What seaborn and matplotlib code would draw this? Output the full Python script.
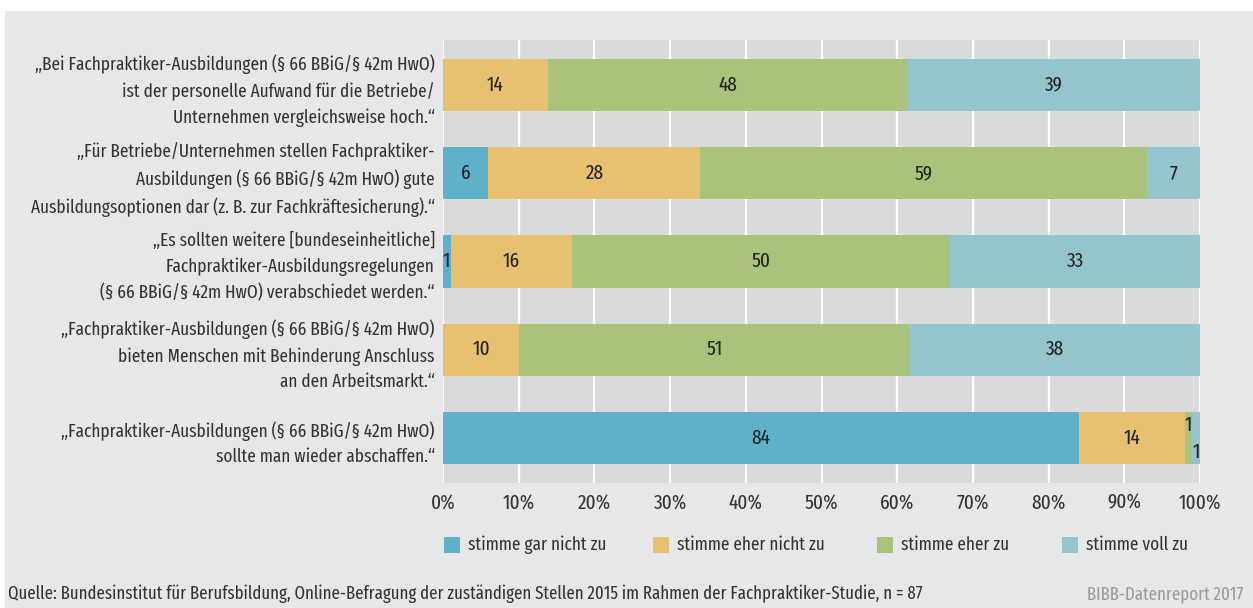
import numpy as np
import pandas as pd
import matplotlib
matplotlib.use("Agg")
import matplotlib.pyplot as plt
from matplotlib.patches import Rectangle
import seaborn as sns

statements = [
    "„Bei Fachpraktiker-Ausbildungen (§ 66 BBiG/§ 42m HwO)\nist der personelle Aufwand für die Betriebe/\nUnternehmen vergleichsweise hoch.“",
    "„Für Betriebe/Unternehmen stellen Fachpraktiker-\nAusbildungen (§ 66 BBiG/§ 42m HwO) gute\nAusbildungsoptionen dar (z. B. zur Fachkräftesicherung).“",
    "„Es sollten weitere [bundeseinheitliche]\nFachpraktiker-Ausbildungsregelungen\n(§ 66 BBiG/§ 42m HwO) verabschiedet werden.“",
    "„Fachpraktiker-Ausbildungen (§ 66 BBiG/§ 42m HwO)\nbieten Menschen mit Behinderung Anschluss\nan den Arbeitsmarkt.“",
    "„Fachpraktiker-Ausbildungen (§ 66 BBiG/§ 42m HwO)\nsollte man wieder abschaffen.“",
]
series_names = ["stimme gar nicht zu", "stimme eher nicht zu", "stimme eher zu", "stimme voll zu"]
gar_nicht = [0, 6, 1, 0, 84]
eher_nicht = [14, 28, 16, 10, 14]
eher_zu = [48, 59, 50, 51, 1]
voll_zu = [39, 7, 33, 38, 1]
xtick_labels = ["0%", "10%", "20%", "30%", "40%", "50%", "60%", "70%", "80%", "90%", "100%"]
source_text = "Quelle: Bundesinstitut für Berufsbildung, Online-Befragung der zuständigen Stellen 2015 im Rahmen der Fachpraktiker-Studie, n = 87"
brand_text = "BIBB-Datenreport 2017"

colors = ["#5fb0c9", "#e8c170", "#a9c47a", "#95c5cc"]
W, H = 1253, 608

sns.set_theme(style="white")
plt.rcParams["font.family"] = ["Fira Sans Extra Condensed", "Fira Sans Condensed", "IBM Plex Sans Condensed", "DejaVu Sans"]
FS = 13.5
FS_TICK = 15
FS_VAL = 15
FS_SRC = 13.1

vals = np.array([gar_nicht, eher_nicht, eher_zu, voll_zu], dtype=float)  # series x rows
pct = vals / vals.sum(axis=0) * 100
cum = np.cumsum(pct, axis=0)

fig = plt.figure(figsize=(W / 100, H / 100), dpi=100)
fig.patch.set_facecolor("white")
fig.patches.append(Rectangle((5 / W, 0), 1 - 5 / W, 1 - 11 / H, transform=fig.transFigure,
                             facecolor="#e6e7e9", edgecolor="none", zorder=-10))

ax = fig.add_axes([443 / W, (H - 483) / H, 757 / W, 443 / H])
ax.set_facecolor("#d9dadc")

ypos = list(range(len(statements)))
for i in reversed(range(4)):
    df = pd.DataFrame({"stmt": statements, "val": cum[i]})
    sns.barplot(data=df, x="val", y="stmt", orient="h", color=colors[i], saturation=1,
                width=0.59, ax=ax, zorder=3, edgecolor="none", linewidth=0)

# value labels
for r in range(len(statements)):
    left = 0.0
    small_idx = [i for i in range(4) if 0 < pct[i, r] < 3]
    consec = len(small_idx) >= 2
    k = 0
    for i in range(4):
        w = pct[i, r]
        if vals[i, r] > 0:
            dy = 0
            if consec and i in small_idx:
                dy = -0.14 if k == 0 else 0.16
                k += 1
            ax.text(left + w / 2, r + dy, f"{int(vals[i, r])}", ha="center", va="center",
                    fontsize=FS_VAL, color="#222222", zorder=5)
        left += w

ax.set_xlim(0, 100)
ax.set_ylim(len(statements) - 0.49, -0.51)
ax.set_xticks(np.arange(0, 101, 10))
ax.set_xticklabels(xtick_labels, fontsize=FS_TICK, color="#333333")
ax.set_yticks(ypos)
ax.set_yticklabels(statements, fontsize=FS, color="#333333", ha="right", multialignment="right",
                   linespacing=1.53)
ax.tick_params(axis="x", length=0, pad=7)
ax.tick_params(axis="y", length=0, pad=6)
ax.set_xlabel("")
ax.set_ylabel("")
ax.grid(axis="x", color="white", linewidth=1.6, zorder=0)
ax.grid(axis="y", visible=False)
ax.set_axisbelow(True)
for s in ax.spines.values():
    s.set_visible(False)

# legend
leg_x = [444, 653, 877, 1062]
for xk, name, c in zip(leg_x, series_names, colors):
    fig.patches.append(Rectangle((xk / W, (H - 553) / H), 16 / W, 16 / H, transform=fig.transFigure,
                                 facecolor=c, edgecolor="none"))
    fig.text((xk + 24) / W, (H - 545) / H, name, ha="left", va="center", fontsize=FS, color="#333333")

fig.text(8 / W, (H - 594) / H, source_text, ha="left", va="center", fontsize=FS_SRC, color="#333333")
fig.text(1243 / W, (H - 594) / H, brand_text, ha="right", va="center", fontsize=FS_SRC, color="#9a9a9a")

fig.savefig("out.png", dpi=100, facecolor=fig.get_facecolor())
